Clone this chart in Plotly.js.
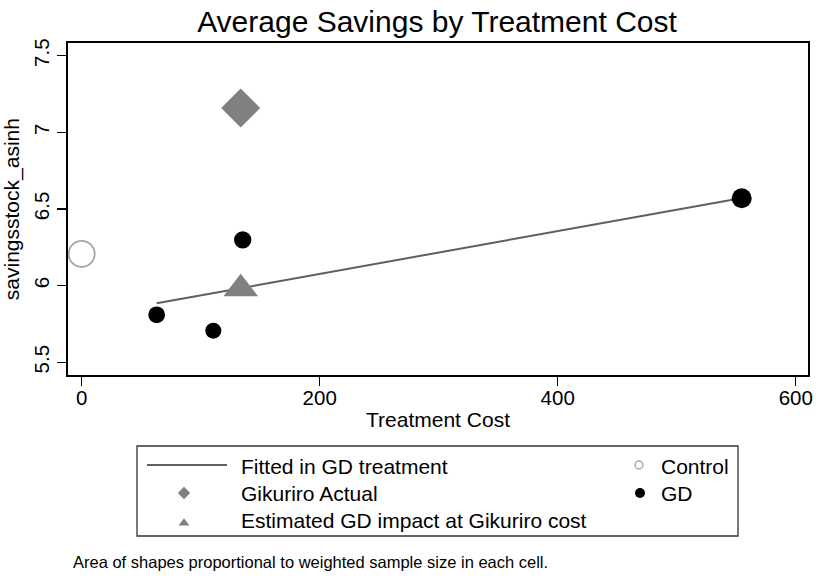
<!DOCTYPE html>
<html>
<head>
<meta charset="utf-8">
<script src="https://cdn.plot.ly/plotly-3.0.1.min.js"></script>
<style>
  html, body { margin: 0; padding: 0; background: #ffffff; }
  #chart { width: 816px; height: 578px; }
</style>
</head>
<body>
<div id="chart"></div>
<script>
// Cell means of savings (asinh) against treatment cost.
// Marker area is proportional to the weighted sample size of each cell.
const controlCost = [0];
const controlSavings = [6.207];
const controlWeight = [169];

const gdCost = [63, 110.6, 135.3, 554.6];
const gdSavings = [5.81, 5.706, 6.298, 6.57];
const gdWeight = [70, 64, 75, 100];

const gikuriroCost = [133.6];
const gikuriroSavings = [7.159];
const gikuriroWeight = [225];

const estimatedCost = [133.6];
const estimatedSavings = [5.98];
const estimatedWeight = [225];

// Linear fit within the GD treatment arm (end points of the fitted segment)
const fitCost = [63, 555];
const fitSavings = [5.885, 6.572];

const xTicks = [0, 200, 400, 600];
const yTicks = [5.5, 6, 6.5, 7, 7.5];

const W = 816, H = 578;
const px = v => v / W;          // horizontal pixel -> paper fraction
const py = v => 1 - v / H;      // vertical pixel -> paper fraction
const diam = w => w.map(v => 2 * Math.sqrt(v));

const FONT = 'Liberation Sans, Arial, Helvetica, sans-serif';
const GRAY = '#808080';
const NOLINE = { width: 0 };

const traces = [
  {
    x: fitCost, y: fitSavings, type: 'scatter', mode: 'lines',
    name: 'Fitted in GD treatment',
    line: { color: '#5f5f5f', width: 2 }, hoverinfo: 'skip'
  },
  {
    x: controlCost, y: controlSavings, type: 'scatter', mode: 'markers',
    name: 'Control', cliponaxis: false,
    marker: { symbol: 'circle-open', size: diam(controlWeight), opacity: 1, color: '#a6a6a6', line: { width: 1.8, color: '#a6a6a6' } }
  },
  {
    x: gdCost, y: gdSavings, type: 'scatter', mode: 'markers',
    name: 'GD',
    marker: { symbol: 'circle', size: diam(gdWeight), opacity: 1, color: '#000000', line: NOLINE }
  },
  {
    x: gikuriroCost, y: gikuriroSavings, type: 'scatter', mode: 'markers',
    name: 'Gikuriro Actual',
    marker: { symbol: 'diamond', size: diam(gikuriroWeight), opacity: 1, color: GRAY, line: NOLINE }
  },
  {
    x: estimatedCost, y: estimatedSavings, type: 'scatter', mode: 'markers',
    name: 'Estimated GD impact at Gikuriro cost',
    marker: { symbol: 'triangle-up', size: diam(estimatedWeight), opacity: 1, color: GRAY, line: NOLINE }
  },
  // legend keys, drawn on a helper axis laid over the whole canvas in pixel units
  {
    x: [639], y: [465], xaxis: 'x2', yaxis: 'y2', type: 'scatter', mode: 'markers',
    marker: { symbol: 'circle-open', size: 8, color: '#a6a6a6', line: { width: 1.4, color: '#a6a6a6' } },
    hoverinfo: 'skip', showlegend: false
  },
  {
    x: [640], y: [493], xaxis: 'x2', yaxis: 'y2', type: 'scatter', mode: 'markers',
    marker: { symbol: 'circle', size: 10, color: '#000000', line: NOLINE },
    hoverinfo: 'skip', showlegend: false
  },
  {
    x: [184], y: [493], xaxis: 'x2', yaxis: 'y2', type: 'scatter', mode: 'markers',
    marker: { symbol: 'diamond', size: 9.5, color: GRAY, line: NOLINE },
    hoverinfo: 'skip', showlegend: false
  },
  {
    x: [184], y: [523], xaxis: 'x2', yaxis: 'y2', type: 'scatter', mode: 'markers',
    marker: { symbol: 'triangle-up', size: 9.5, color: GRAY, line: NOLINE },
    hoverinfo: 'skip', showlegend: false
  }
];

const legendRows = [
  { text: 'Fitted in GD treatment', x: 239, y: 466 },
  { text: 'Gikuriro Actual', x: 239, y: 493 },
  { text: 'Estimated GD impact at Gikuriro cost', x: 239, y: 520 },
  { text: 'Control', x: 659, y: 466 },
  { text: 'GD', x: 659, y: 493 }
];

const annotations = legendRows.map(r => ({
  text: r.text, xref: 'paper', yref: 'paper', x: px(r.x), y: py(r.y),
  xanchor: 'left', yanchor: 'middle', showarrow: false,
  font: { family: FONT, size: 21, color: '#000000' }
}));
annotations.push({
  text: 'Area of shapes proportional to weighted sample size in each cell.',
  xref: 'paper', yref: 'paper', x: px(71), y: py(562),
  xanchor: 'left', yanchor: 'middle', showarrow: false,
  font: { family: FONT, size: 16.5, color: '#000000' }
});

const layout = {
  width: W, height: H,
  margin: { l: 0, r: 0, t: 0, b: 0, pad: 0 },
  paper_bgcolor: '#ffffff', plot_bgcolor: 'rgba(0,0,0,0)',
  showlegend: false,
  font: { family: FONT, color: '#000000' },
  title: {
    text: 'Average Savings by Treatment Cost',
    x: px(437), xanchor: 'center', xref: 'paper',
    y: 1 - 21 / H, yanchor: 'middle', yref: 'container',
    font: { family: FONT, size: 30, color: '#000000' }
  },
  xaxis: {
    domain: [px(68), px(808)],
    range: [-11.5, 610.3],
    tickvals: xTicks, ticktext: xTicks.map(String),
    ticks: 'outside', ticklen: 9, tickwidth: 1.3, tickcolor: '#000000',
    ticklabelstandoff: -6,
    tickfont: { family: FONT, size: 20.5, color: '#000000' },
    showgrid: false, zeroline: false,
    showline: true, mirror: true, linecolor: '#000000', linewidth: 2,
    title: { text: 'Treatment Cost', standoff: 5, font: { family: FONT, size: 21, color: '#000000' } },
    automargin: false, fixedrange: true
  },
  yaxis: {
    domain: [py(375), py(43.3)],
    range: [5.417, 7.581],
    tickvals: yTicks, ticktext: yTicks.map(String),
    tickangle: -90,
    ticks: 'outside', ticklen: 9, tickwidth: 1.3, tickcolor: '#000000',
    tickfont: { family: FONT, size: 20.5, color: '#000000' },
    showgrid: false, zeroline: false,
    showline: true, mirror: true, linecolor: '#000000', linewidth: 2,
    title: { text: 'savingsstock_asinh', standoff: 6, font: { family: FONT, size: 21, color: '#000000' } },
    automargin: false, fixedrange: true
  },
  xaxis2: { domain: [0, 1], range: [0, W], visible: false, fixedrange: true, anchor: 'y2' },
  yaxis2: { domain: [0, 1], range: [H, 0], visible: false, fixedrange: true, anchor: 'x2' },
  shapes: [
    { type: 'rect', xref: 'paper', yref: 'paper', x0: px(137), x1: px(738), y0: py(446), y1: py(536),
      line: { color: '#333333', width: 1.3 }, fillcolor: 'rgba(0,0,0,0)' },
    { type: 'line', xref: 'paper', yref: 'paper', x0: px(147), x1: px(227), y0: py(465), y1: py(465),
      line: { color: '#5f5f5f', width: 2 } }
  ],
  annotations: annotations
};

Plotly.newPlot('chart', traces, layout, { staticPlot: true, displayModeBar: false });
</script>
</body>
</html>
